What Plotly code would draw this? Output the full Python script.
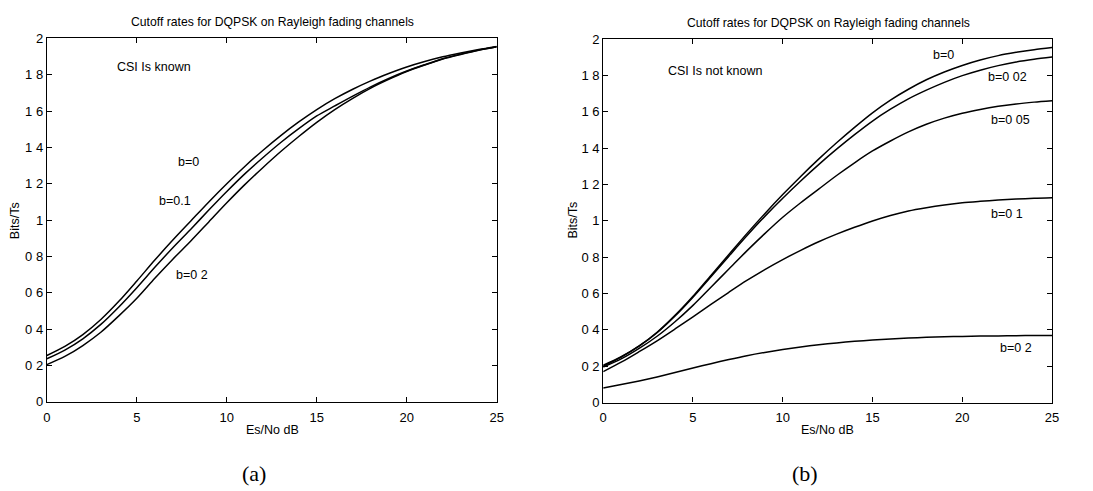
import plotly.graph_objects as go

# ---------------- data ----------------
snr_db = list(range(0, 26))

# (a) CSI is known
known_b0 = [0.255, 0.305, 0.37, 0.453, 0.553, 0.665, 0.78, 0.89, 0.995, 1.10, 1.20, 1.295, 1.383,
            1.465, 1.54, 1.608, 1.668, 1.72, 1.766, 1.806, 1.842, 1.872, 1.898, 1.919, 1.938, 1.955]
known_b01 = [0.237, 0.285, 0.347, 0.426, 0.522, 0.628, 0.74, 0.848, 0.95, 1.055, 1.157, 1.254, 1.343,
             1.427, 1.503, 1.573, 1.628, 1.682, 1.733, 1.779, 1.82, 1.855, 1.888, 1.913, 1.935, 1.954]
known_b02 = [0.205, 0.25, 0.31, 0.383, 0.473, 0.57, 0.68, 0.785, 0.885, 0.99, 1.095, 1.195, 1.288,
             1.377, 1.46, 1.538, 1.608, 1.67, 1.726, 1.774, 1.817, 1.853, 1.886, 1.911, 1.934, 1.953]

# (b) CSI is not known
unk_b0 = [0.205, 0.252, 0.312, 0.387, 0.48, 0.585, 0.70, 0.815, 0.93, 1.04, 1.145, 1.245, 1.34,
          1.43, 1.515, 1.595, 1.665, 1.725, 1.777, 1.82, 1.856, 1.886, 1.91, 1.928, 1.943, 1.955]
unk_b002 = [0.20, 0.25, 0.31, 0.384, 0.476, 0.58, 0.693, 0.806, 0.918, 1.025, 1.125, 1.22, 1.31,
            1.395, 1.475, 1.55, 1.615, 1.672, 1.72, 1.763, 1.80, 1.83, 1.855, 1.875, 1.89, 1.902]
unk_b005 = [0.195, 0.24, 0.298, 0.365, 0.445, 0.535, 0.635, 0.735, 0.835, 0.93, 1.02, 1.10, 1.175,
            1.25, 1.32, 1.385, 1.44, 1.49, 1.532, 1.566, 1.593, 1.614, 1.631, 1.644, 1.654, 1.662]
unk_b01 = [0.17, 0.222, 0.28, 0.34, 0.405, 0.472, 0.54, 0.607, 0.672, 0.732, 0.787, 0.838, 0.885,
           0.927, 0.965, 1.0, 1.03, 1.055, 1.073, 1.088, 1.10, 1.108, 1.115, 1.12, 1.125, 1.128]
unk_b02 = [0.08, 0.099, 0.119, 0.141, 0.165, 0.19, 0.214, 0.237, 0.258, 0.276, 0.292, 0.306, 0.318,
           0.328, 0.337, 0.344, 0.35, 0.355, 0.359, 0.362, 0.364, 0.366, 0.367, 0.368, 0.369, 0.369]

x_ticks = [0, 5, 10, 15, 20, 25]
x_tick_text = ["0", "5", "10", "15", "20", "25"]
y_ticks = [0, 0.2, 0.4, 0.6, 0.8, 1.0, 1.2, 1.4, 1.6, 1.8, 2.0]
y_tick_text = ["0", "0 2", "0 4", "0 6", "0 8", "1", "1 2", "1 4", "1 6", "1 8", "2"]

title_text = "Cutoff rates for DQPSK on Rayleigh fading channels"

# ---------------- figure ----------------
W, H = 1093, 491
FONT = "Liberation Sans, Arial, sans-serif"
line_style = dict(color="black", width=1.5, shape="spline", smoothing=0.8)

fig = go.Figure()
for ys in (known_b0, known_b01, known_b02):
    fig.add_trace(go.Scatter(x=snr_db, y=ys, mode="lines", line=line_style,
                             xaxis="x", yaxis="y", showlegend=False, hoverinfo="skip"))
for ys in (unk_b0, unk_b002, unk_b005, unk_b01, unk_b02):
    fig.add_trace(go.Scatter(x=snr_db, y=ys, mode="lines", line=line_style,
                             xaxis="x2", yaxis="y2", showlegend=False, hoverinfo="skip"))

def px_x(p):
    return p / W

def px_y(p):
    return 1 - p / H

ax_common = dict(showline=True, linecolor="black", linewidth=1.2, mirror="ticks",
                 ticks="inside", ticklen=5, tickcolor="black", tickwidth=1.2,
                 showgrid=False, zeroline=False,
                 tickfont=dict(family=FONT, size=13, color="black"))

fig.update_layout(
    width=W, height=H,
    margin=dict(l=0, r=0, t=0, b=0),
    paper_bgcolor="white", plot_bgcolor="white",
    font=dict(family=FONT, color="black"),
    xaxis=dict(domain=[px_x(43.3), px_x(497.7)], range=[0, 25], anchor="y",
               tickvals=x_ticks, ticktext=x_tick_text, ticklabelstandoff=3, **ax_common),
    yaxis=dict(domain=[px_y(407.3), px_y(32.3)], range=[0, 2], anchor="x",
               tickvals=y_ticks, ticktext=y_tick_text, **ax_common),
    xaxis2=dict(domain=[px_x(605.3), px_x(1058.7)], range=[0, 25], anchor="y2",
                tickvals=x_ticks, ticktext=x_tick_text, ticklabelstandoff=3, **ax_common),
    yaxis2=dict(domain=[px_y(408), px_y(33.3)], range=[0, 2], anchor="x2",
                tickvals=y_ticks, ticktext=y_tick_text, **ax_common),
)

ann = []
def paper_text(text, x, y, size=12, family=FONT, angle=0):
    ann.append(dict(text=text, x=px_x(x), y=px_y(y), xref="paper", yref="paper",
                    showarrow=False, xanchor="center", yanchor="middle", textangle=angle,
                    font=dict(family=family, size=size, color="black")))

def data_text(text, x, y, ax, size=12.5):
    ann.append(dict(text=text, x=x, y=y, xref=ax[0], yref=ax[1], showarrow=False,
                    xanchor="center", yanchor="middle",
                    font=dict(family=FONT, size=size, color="black")))

# titles
paper_text(title_text, 271.7, 15, size=12.2)
paper_text(title_text, 832.7, 16, size=12.2)
# axis titles
paper_text("Es/No dB", 271.7, 436, size=12.5)
paper_text("Es/No dB", 831.7, 436, size=12.5)
paper_text("Bits/Ts", 11, 220, size=12.5, angle=-90)
paper_text("Bits/Ts", 575, 220, size=12.5, angle=-90)
# panel labels
paper_text("(a)", 253, 481, size=22, family="Liberation Serif, DejaVu Serif, serif")
paper_text("(b)", 809, 481, size=22, family="Liberation Serif, DejaVu Serif, serif")

# in-plot labels
data_text("CSI Is known", 5.97, 1.843, ("x", "y"))
data_text("b=0", 7.85, 1.319, ("x", "y"))
data_text("b=0.1", 7.14, 1.106, ("x", "y"))
data_text("b=0 2", 8.07, 0.700, ("x", "y"))

data_text("CSI Is not known", 6.25, 1.827, ("x2", "y2"))
data_text("b=0", 18.96, 1.914, ("x2", "y2"))
data_text("b=0 02", 22.5, 1.795, ("x2", "y2"))
data_text("b=0 05", 22.7, 1.558, ("x2", "y2"))
data_text("b=0 1", 22.5, 1.036, ("x2", "y2"))
data_text("b=0 2", 22.97, 0.299, ("x2", "y2"))

fig.update_layout(annotations=ann)
fig.write_html("out.html")
